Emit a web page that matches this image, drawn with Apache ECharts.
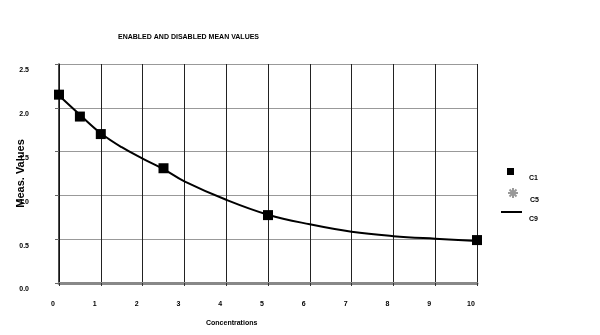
<!DOCTYPE html>
<html><head><meta charset="utf-8">
<script src="https://cdn.jsdelivr.net/npm/echarts@6/dist/echarts.min.js"></script>
<style>html,body{margin:0;padding:0;background:#fff}#c{width:600px;height:335px}</style>
</head><body><div id="c"></div>
<script>
var chartTitle = "ENABLED AND DISABLED MEAN VALUES";
var xAxisName = "Concentrations";
var yAxisName = "Meas. Values";
var xTicks = [0,1,2,3,4,5,6,7,8,9,10];
var yTicks = ["0.0","0.5","1.0","1.5","2.0","2.5"];
var c1X = [0, 0.5, 1, 2.5, 5, 10];
var c1Y = [2.15, 1.90, 1.70, 1.31, 0.775, 0.49];
var c5X = [];
var c5Y = [];
var c9X = [0, 0.5, 1, 1.5, 2, 2.5, 3, 4, 5, 6, 7, 8, 9, 10];
var c9Y = [2.14, 1.92, 1.71, 1.55, 1.42, 1.30, 1.16, 0.95, 0.78, 0.67, 0.585, 0.535, 0.505, 0.48];

function pairs(xs, ys){ return xs.map(function(x,i){return [x, ys[i]];}); }
var asterisk = 'path://M5,0L5,10M0,5L10,5M1.5,1.5L8.5,8.5M8.5,1.5L1.5,8.5';
var FONT = 'Liberation Sans';
var legText = function(padLeft){
  return {fontFamily:FONT, fontSize:7, fontWeight:'bold', color:'#000',
    rich:{t:{fontFamily:FONT, fontSize:7, fontWeight:'bold', color:'#000', padding:[14,0,0,padLeft]}}};
};
var chart = echarts.init(document.getElementById('c'));
chart.setOption({
  animation:false,
  backgroundColor:'#fff',
  title:{text:chartTitle, left:118, top:34, padding:0, textStyle:{fontFamily:FONT, fontSize:7, fontWeight:'bold', color:'#000'}},
  grid:{left:59, right:123, top:64, bottom:52, outerBoundsMode:'none', containLabel:false},
  xAxis:{type:'value', min:0, max:10, interval:1,
    axisLine:{show:true, onZero:false, lineStyle:{color:'#888', width:3}},
    axisTick:{show:true, length:3, lineStyle:{color:'#333'}},
    splitLine:{show:true, lineStyle:{color:'#222', width:1}},
    axisLabel:{fontFamily:FONT, fontSize:7, fontWeight:'bold', color:'#000', margin:18, padding:[0,12,0,0],
      formatter:function(v){return xTicks.indexOf(v)>=0 ? String(v) : '';}}
  },
  yAxis:{type:'value', min:0, max:2.5, interval:0.5,
    name:yAxisName, nameLocation:'middle', nameGap:33, nameMoveOverlap:false,
    nameTextStyle:{fontFamily:FONT, fontSize:11, fontWeight:'bold', color:'#000'},
    axisLine:{show:true, lineStyle:{color:'#111', width:1.5}},
    axisTick:{show:true, length:4, lineStyle:{color:'#666'}},
    splitLine:{show:true, lineStyle:{color:'#999', width:1}},
    axisLabel:{fontFamily:FONT, fontSize:7, fontWeight:'bold', color:'#000', margin:30, verticalAlign:'top', padding:[3,0,0,0],
      formatter:function(v){return yTicks[Math.round(v*2)];}}
  },
  legend:[
    {orient:'vertical', left:507, top:168, itemWidth:7, itemHeight:7, padding:0,
      formatter:'{t|{name}}', textStyle:legText(10), data:[{name:'C1', icon:'rect'}]},
    {orient:'vertical', left:507, top:187, itemWidth:10, itemHeight:10, padding:0,
      formatter:'{t|{name}}', textStyle:legText(7), data:[{name:'C5', icon:asterisk}]},
    {orient:'vertical', left:501, top:211, itemWidth:21, itemHeight:2, padding:0,
      formatter:'{t|{name}}', textStyle:legText(2), data:[{name:'C9', icon:'rect'}]}
  ],
  graphic:[{type:'text', left:206, top:320, style:{text:xAxisName, font:'bold 7px "Liberation Sans"', fill:'#000'}}],
  series:[
    {name:'C9', type:'line', data:pairs(c9X,c9Y), smooth:0.4, showSymbol:false, symbol:'none',
      lineStyle:{color:'#000', width:2}, itemStyle:{color:'#000'}, z:2},
    {name:'C1', type:'scatter', data:pairs(c1X,c1Y), symbol:'rect', symbolSize:10,
      itemStyle:{color:'#000', opacity:1}, z:3},
    {name:'C5', type:'scatter', data:pairs(c5X,c5Y), symbol:asterisk, symbolSize:10,
      itemStyle:{color:'#fff', borderColor:'#999', borderWidth:1, opacity:1}}
  ]
});
</script></body></html>
